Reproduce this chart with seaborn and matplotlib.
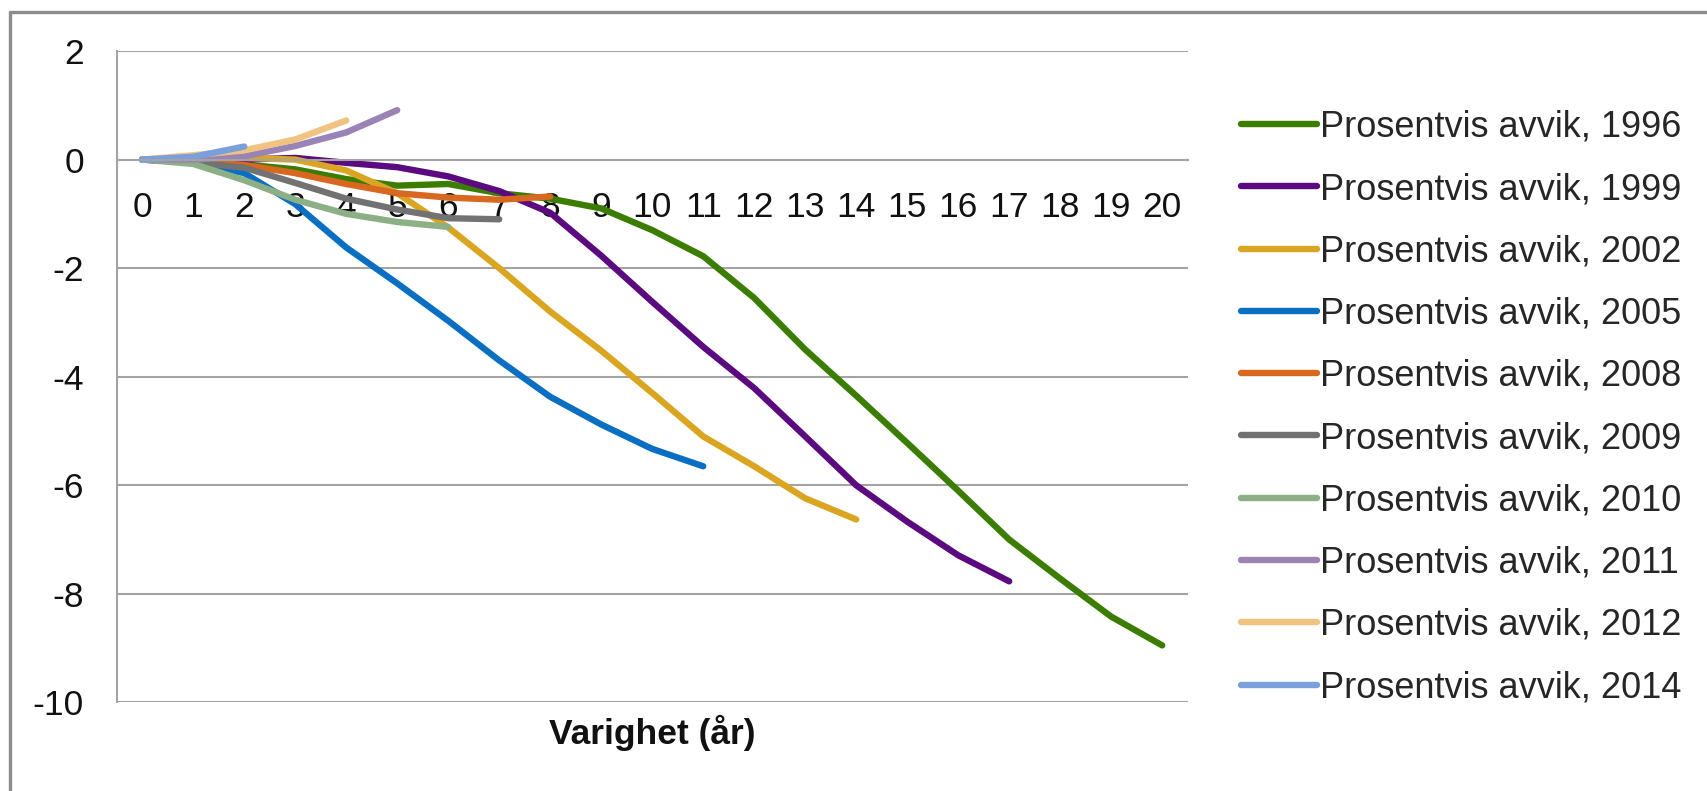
import numpy as np
import pandas as pd
import matplotlib
matplotlib.use("Agg")
import matplotlib.pyplot as plt
from matplotlib.lines import Line2D
import seaborn as sns

# Prosentvis avvik per varighet (år) for hver årgang
years = ["1996", "1999", "2002", "2005", "2008", "2009", "2010", "2011", "2012", "2014"]
v1996 = [0, -0.04, -0.09, -0.18, -0.36, -0.48, -0.45, -0.62, -0.72, -0.90, -1.30,
         -1.78, -2.55, -3.50, -4.35, -5.22, -6.10, -7.00, -7.72, -8.42, -8.95]
v1999 = [0, -0.02, 0.00, 0.03, -0.06, -0.14, -0.31, -0.58, -0.98, -1.77, -2.62,
         -3.45, -4.21, -5.10, -6.00, -6.67, -7.29, -7.77]
v2002 = [0, 0.02, 0.03, 0.00, -0.20, -0.62, -1.25, -2.00, -2.80, -3.52, -4.30,
         -5.10, -5.65, -6.24, -6.63]
v2005 = [0, -0.05, -0.25, -0.82, -1.62, -2.28, -2.97, -3.70, -4.37, -4.88, -5.33, -5.65]
v2008 = [0, -0.03, -0.10, -0.25, -0.45, -0.62, -0.70, -0.74, -0.68]
v2009 = [0, -0.05, -0.15, -0.43, -0.72, -0.92, -1.08, -1.10]
v2010 = [0, -0.08, -0.38, -0.74, -1.00, -1.15, -1.24]
v2011 = [0, 0.00, 0.06, 0.25, 0.50, 0.91]
v2012 = [0, 0.08, 0.17, 0.37, 0.72]
v2014 = [0, 0.05, 0.24]
series = [v1996, v1999, v2002, v2005, v2008, v2009, v2010, v2011, v2012, v2014]

x_labels = [str(i) for i in range(21)]
y_ticks = [-10, -8, -6, -4, -2, 0, 2]

colors = ["#3A7D00", "#5C0A80", "#DAA520", "#0A6FC2", "#D8681F",
          "#727272", "#8CAF86", "#9A84B6", "#F0C380", "#7A9FDC"]

names = [f"Prosentvis avvik, {y}" for y in years]
rows = []
for name, vals in zip(names, series):
    for i, v in enumerate(vals):
        rows.append({"Varighet": i, "Avvik": v, "Serie": name})
df = pd.DataFrame(rows)

sns.set_style("white")
plt.rcParams["font.family"] = ["Liberation Sans", "DejaVu Sans"]
plt.rcParams["axes.unicode_minus"] = False

W, H = 1708, 791
fig = plt.figure(figsize=(W / 100, H / 100), dpi=100)
L, R, T, B = 116.7, 1187.7, 51.0, 702.4
ax = fig.add_axes([L / W, 1 - B / H, (R - L) / W, (B - T) / H])

grid_c = "#A3A3A3"
ax.set_ylim(-10, 2)
ax.set_xlim(-0.5, 20.5)
ax.set_yticks(y_ticks)
ax.yaxis.grid(True, color=grid_c, linewidth=1.5)
ax.xaxis.grid(False)
ax.set_axisbelow(True)

lw = 4.6
sns.lineplot(data=df, x="Varighet", y="Avvik", hue="Serie", hue_order=names,
             palette=dict(zip(names, colors)), linewidth=lw, sort=False,
             solid_capstyle="round", solid_joinstyle="round", ax=ax, legend=False)

# Category axis crossing at zero, labels under it, tick marks between categories
for s in ["top", "right"]:
    ax.spines[s].set_visible(False)
ax.spines["bottom"].set_position(("data", 0))
ax.spines["bottom"].set_color(grid_c)
ax.spines["bottom"].set_linewidth(1.5)
ax.spines["left"].set_color(grid_c)
ax.spines["left"].set_linewidth(1.5)

ax.set_xticks(range(21))
ax.set_xticklabels(x_labels)
ax.set_xticks(np.arange(-0.5, 21, 1), minor=True)
ax.tick_params(axis="x", which="major", length=0, pad=22.5, labelsize=25.5,
               labelcolor="#111111")
ax.tick_params(axis="x", which="minor", length=7.2, width=1.5, color=grid_c,
               direction="out")
ax.tick_params(axis="y", which="major", length=7.2, width=1.5, color=grid_c,
               pad=16.5, labelsize=25.5, labelcolor="#111111")
ax.set_xlabel("")
ax.set_ylabel("")

fig.text(652 / W, 1 - 733 / H, "Varighet (år)", ha="center", va="center",
         fontsize=25.5, fontweight="bold", color="#111111")

handles = [Line2D([0], [0], color=c, linewidth=lw, solid_capstyle="round")
           for c in colors]
ax.legend(handles, names, loc="center left", bbox_to_anchor=(1241 / W, 1 - 407.5 / H),
          bbox_transform=fig.transFigure, frameon=False, fontsize=26,
          handlelength=2.1, handletextpad=0.1, labelspacing=0.755,
          borderpad=0, borderaxespad=0)

# Chart area frame (top and left edges)
frame_c = "#8C8C8C"
fig.add_artist(Line2D([10 / W, 1], [1 - 12 / H, 1 - 12 / H], color=frame_c,
                      linewidth=2.4, transform=fig.transFigure))
fig.add_artist(Line2D([10 / W, 10 / W], [0, 1 - 12 / H], color=frame_c,
                      linewidth=2.4, transform=fig.transFigure))

fig.savefig("out.png", dpi=100, facecolor="white")
